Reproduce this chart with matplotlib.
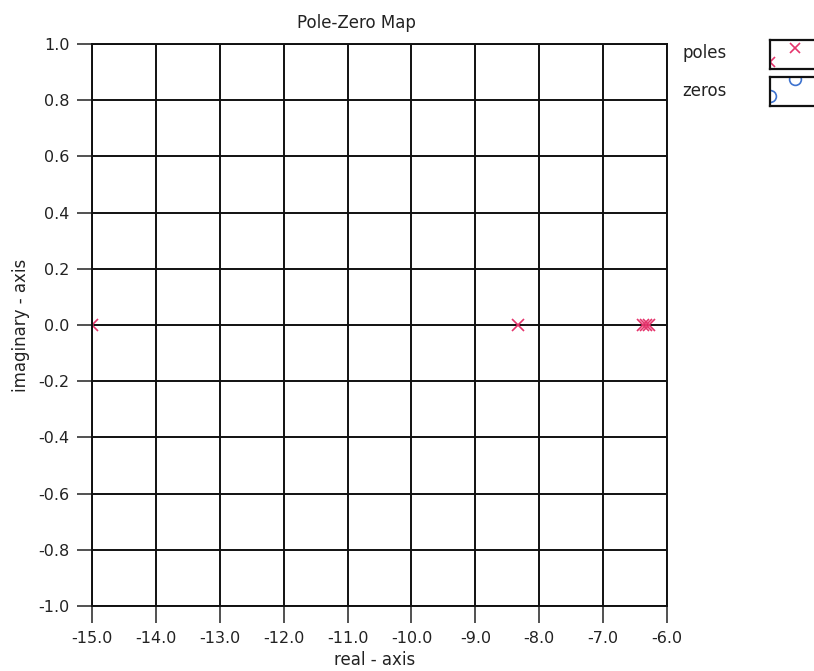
import matplotlib
matplotlib.use("Agg")
import matplotlib.pyplot as plt
from matplotlib.patches import Rectangle
import numpy as np

# Data
pole_re = [-15.0, -8.34, -6.38, -6.33, -6.28]
pole_im = [0.0, 0.0, 0.0, 0.0, 0.0]
zero_re = []
zero_im = []
x_ticks = [-15.0, -14.0, -13.0, -12.0, -11.0, -10.0, -9.0, -8.0, -7.0, -6.0]
y_ticks = [1.0, 0.8, 0.6, 0.4, 0.2, 0.0, -0.2, -0.4, -0.6, -0.8, -1.0]
legend_labels = ["poles", "zeros"]

pole_color = "#e5346c"
zero_color = "#3d72cf"
txt_color = "#222222"
W, H = 814, 671

fig = plt.figure(figsize=(W / 100, H / 100), dpi=100)
fig.patch.set_facecolor("white")
ax = fig.add_axes([92 / W, 1 - 606 / H, (667 - 92) / W, (606 - 44) / H])
ax.set_xlim(-15.0, -6.0)
ax.set_ylim(-1.0, 1.0)
ax.set_xticks(x_ticks)
ax.set_yticks(y_ticks)
ax.set_xticklabels([f"{v:.1f}" for v in x_ticks])
ax.set_yticklabels([f"{v:.1f}" for v in y_ticks])
ax.grid(True, color="#111111", linewidth=1.4)
ax.set_axisbelow(True)
for s in ax.spines.values():
    s.set_color("#111111")
    s.set_linewidth(1.4)
ax.tick_params(axis="x", direction="out", length=12, width=1.2, color="#333333",
               labelsize=11.5, labelcolor=txt_color, pad=6)
ax.tick_params(axis="y", direction="out", length=11, width=1.2, color="#333333",
               labelsize=11.5, labelcolor=txt_color, pad=5)

clip_rect = Rectangle((0, 0), 1, 1, transform=ax.transAxes, facecolor="none",
                      edgecolor="none")
ax.add_artist(clip_rect)
clip_rect.set_visible(False)

(pl,) = ax.plot(pole_re, pole_im, linestyle="none", marker="x", markersize=8.5,
                markeredgewidth=1.2, color=pole_color)
pl.set_clip_path(clip_rect)
if zero_re:
    (zl,) = ax.plot(zero_re, zero_im, linestyle="none", marker="o", markersize=8.5,
                    markerfacecolor="none", markeredgewidth=1.2, color=zero_color)
    zl.set_clip_path(clip_rect)

fig.text(356 / W, 1 - 23 / H, "Pole-Zero Map", ha="center", va="center",
         fontsize=12, color=txt_color)
fig.text(375 / W, 1 - 660 / H, "real - axis", ha="center", va="center",
         fontsize=12, color=txt_color)
fig.text(21 / W, 1 - 325 / H, "imaginary - axis", ha="center", va="center",
         rotation=90, fontsize=12, color=txt_color)

# Legend (LabVIEW style boxes)
legend_specs = [(legend_labels[0], 40, 69, "x", pole_color, [0.0, 5.2], [2.5, 7.3]),
                (legend_labels[1], 77, 106, "o", zero_color, [0.0, 5.2], [3.5, 9.4])]
for label, top, bot, mk, col, mx, my in legend_specs:
    fig.text(682 / W, 1 - ((top + bot) / 2 - 1) / H, label, ha="left", va="center",
             fontsize=12, color=txt_color)
    lax = fig.add_axes([770 / W, 1 - bot / H, (W - 770 + 5) / W, (bot - top) / H])
    lax.set_xlim(0, 10)
    lax.set_ylim(0, 10)
    lax.set_xticks([])
    lax.set_yticks([])
    for s in lax.spines.values():
        s.set_color("#111111")
        s.set_linewidth(1.6)
    lclip = Rectangle((0, 0), 1, 1, transform=lax.transAxes, facecolor="none",
                      edgecolor="none")
    lax.add_artist(lclip)
    lclip.set_visible(False)
    if mk == "x":
        (ll,) = lax.plot(mx, my, linestyle="none", marker=mk, markersize=7.5,
                         markeredgewidth=1.2, color=col)
    else:
        (ll,) = lax.plot(mx, my, linestyle="none", marker=mk, markersize=8.5,
                         markerfacecolor="none", markeredgewidth=1.2, color=col)
    ll.set_clip_path(lclip)

fig.savefig("out.png", dpi=100)
